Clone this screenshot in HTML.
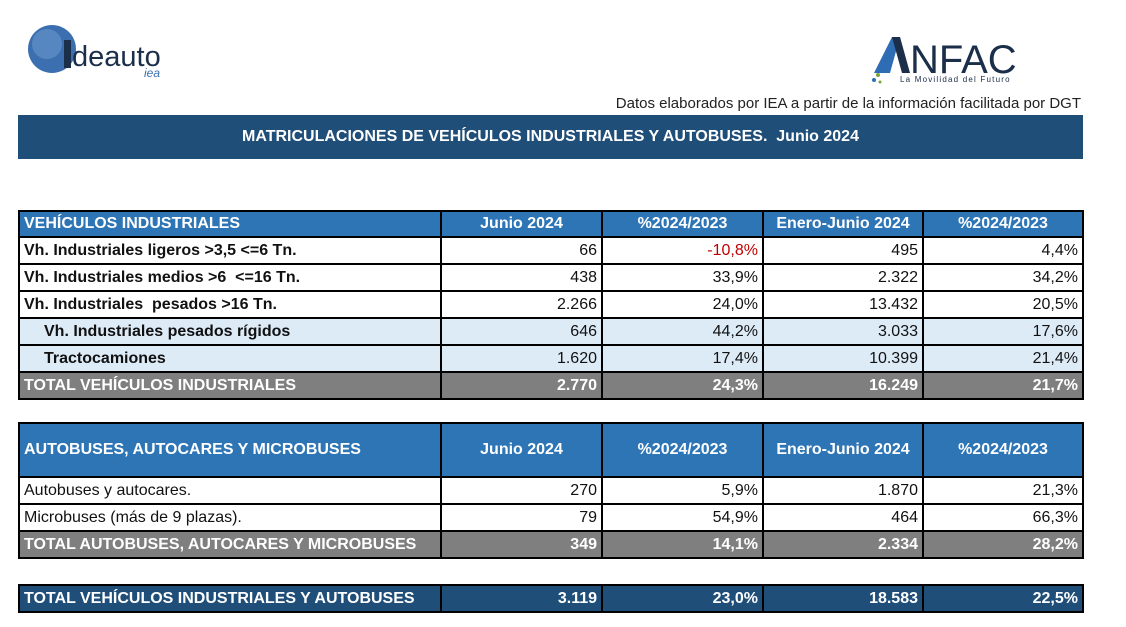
<!DOCTYPE html>
<html><head><meta charset="utf-8"><style>
body{margin:0;width:1126px;height:627px;background:#fff;position:relative;font-family:"Liberation Sans",sans-serif;overflow:hidden}
table{position:absolute;left:18px;border-collapse:collapse;table-layout:fixed;width:1064px}
td{border:2px solid #000;padding:0 4px;font-size:16px;white-space:nowrap;overflow:hidden;color:#111}
td.n{text-align:right;font-size:16px}
.h td{background:#2E75B6;color:#fff;font-weight:bold;text-align:center}
.h td:first-child{text-align:left}
.t td{background:#7F7F7F;color:#fff;font-weight:bold}
.l td{background:#DDEBF7}
.b td:first-child{font-weight:bold}
.d td{background:#1F4E79;color:#fff;font-weight:bold}
</style></head><body>
<svg style="position:absolute;left:26px;top:24px" width="170" height="56">
<circle cx="26" cy="25" r="24" fill="#3B6FB0"/><circle cx="21" cy="20" r="15" fill="#6A98CC" opacity=".6"/>
<rect x="38" y="16" width="7" height="28" fill="#1B2E4A"/>
<text x="46" y="42" font-size="29" fill="#1B2E4A" font-family="Liberation Sans">deauto</text>
<text x="118" y="53" font-size="12" fill="#3B6FB0" font-style="italic">iea</text>
</svg>
<svg style="position:absolute;left:866px;top:35px" width="170" height="52">
<polygon points="8,38 26,2 34,2 24,38" fill="#2E6DB4"/><polygon points="26,2 34,2 44,38 36,38" fill="#1B2E4A"/>
<text x="44" y="38" font-size="40" fill="#1B2E4A" font-family="Liberation Sans">NFAC</text>
<text x="34" y="47" font-size="8" fill="#1B2E4A" letter-spacing="1.2">La Movilidad del Futuro</text>
<circle cx="12" cy="40" r="2" fill="#7BA33A"/><circle cx="8" cy="45" r="2" fill="#2E6DB4"/><circle cx="14" cy="47" r="1.5" fill="#7BA33A"/>
</svg>
<div style="position:absolute;right:45px;top:95px;font-size:15px;color:#222">Datos elaborados por IEA a partir de la información facilitada por DGT</div>
<div style="position:absolute;left:18px;top:115px;width:1065px;height:44px;background:#1F4E79;color:#fff;font-weight:bold;font-size:16px;text-align:center;line-height:44px">MATRICULACIONES DE VEHÍCULOS INDUSTRIALES Y AUTOBUSES.&nbsp; Junio 2024</div>

<table style="top:210px">
<colgroup><col style="width:422px"><col style="width:161px"><col style="width:161px"><col style="width:160px"><col style="width:160px"></colgroup>
<tr class="h" style="height:26px"><td>VEHÍCULOS INDUSTRIALES</td><td>Junio 2024</td><td>%2024/2023</td><td>Enero-Junio 2024</td><td>%2024/2023</td></tr>
<tr class="b" style="height:27px"><td>Vh. Industriales ligeros &gt;3,5 &lt;=6 Tn.</td><td class="n">66</td><td class="n" style="color:#C00000">-10,8%</td><td class="n">495</td><td class="n">4,4%</td></tr>
<tr class="b" style="height:27px"><td>Vh. Industriales medios &gt;6&nbsp; &lt;=16 Tn.</td><td class="n">438</td><td class="n">33,9%</td><td class="n">2.322</td><td class="n">34,2%</td></tr>
<tr class="b" style="height:27px"><td>Vh. Industriales&nbsp; pesados &gt;16 Tn.</td><td class="n">2.266</td><td class="n">24,0%</td><td class="n">13.432</td><td class="n">20,5%</td></tr>
<tr class="b l" style="height:27px"><td style="padding-left:24px">Vh. Industriales pesados rígidos</td><td class="n">646</td><td class="n">44,2%</td><td class="n">3.033</td><td class="n">17,6%</td></tr>
<tr class="b l" style="height:27px"><td style="padding-left:24px">Tractocamiones</td><td class="n">1.620</td><td class="n">17,4%</td><td class="n">10.399</td><td class="n">21,4%</td></tr>
<tr class="t" style="height:27px"><td>TOTAL VEHÍCULOS INDUSTRIALES</td><td class="n">2.770</td><td class="n">24,3%</td><td class="n">16.249</td><td class="n">21,7%</td></tr>
</table>

<table style="top:422px">
<colgroup><col style="width:422px"><col style="width:161px"><col style="width:161px"><col style="width:160px"><col style="width:160px"></colgroup>
<tr class="h" style="height:54px"><td>AUTOBUSES, AUTOCARES Y MICROBUSES</td><td>Junio 2024</td><td>%2024/2023</td><td>Enero-Junio 2024</td><td>%2024/2023</td></tr>
<tr style="height:27px"><td>Autobuses y autocares.</td><td class="n">270</td><td class="n">5,9%</td><td class="n">1.870</td><td class="n">21,3%</td></tr>
<tr style="height:27px"><td>Microbuses (más de 9 plazas).</td><td class="n">79</td><td class="n">54,9%</td><td class="n">464</td><td class="n">66,3%</td></tr>
<tr class="t" style="height:27px"><td>TOTAL AUTOBUSES, AUTOCARES Y MICROBUSES</td><td class="n">349</td><td class="n">14,1%</td><td class="n">2.334</td><td class="n">28,2%</td></tr>
</table>

<table style="top:584px">
<colgroup><col style="width:422px"><col style="width:161px"><col style="width:161px"><col style="width:160px"><col style="width:160px"></colgroup>
<tr class="d" style="height:27px"><td>TOTAL VEHÍCULOS INDUSTRIALES Y AUTOBUSES</td><td class="n">3.119</td><td class="n">23,0%</td><td class="n">18.583</td><td class="n">22,5%</td></tr>
</table>
</body></html>
